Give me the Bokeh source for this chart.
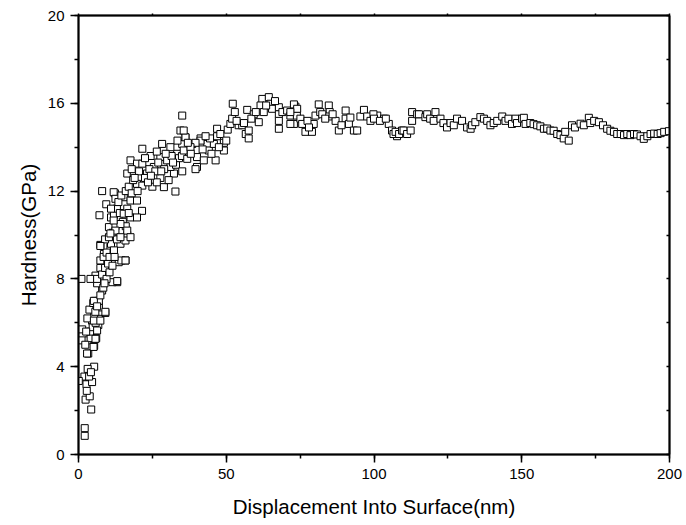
from bokeh.plotting import figure
from bokeh.models import Range1d, LinearAxis, SingleIntervalTicker, FixedTicker, ColumnDataSource
from bokeh.embed import file_html
from bokeh.resources import INLINE

# Displacement into surface (nm) and hardness (GPa)
depth_nm = [
    2.1, 2.1, 4.3, 2.4, 3.8, 2.7, 2.0, 4.6, 5.3, 3.1, 3.6, 0.1, 4.2, 2.8, 3.3, 1.25, 1.25, 3.4, 4.1, 6.0,
    5.3, 3.9, 6.7, 4.6, 7.1, 9.1, 7.1, 5.3, 3.7, 6.7, 5.0, 1.0, 2.3, 4.8, 5.8, 3.0, 2.6, 5.6,
    6.9, 9.1, 5.7, 5.2, 7.4, 6.3, 5.75, 5.1, 2.9, 6.9, 5.2, 8.0, 6.3, 5.75, 7.4, 9.7, 13.1, 11.5,
    13.6, 15.9, 8.6, 10.8, 7.4, 14.2, 16.5,
    7.4, 8.4, 7.4, 6.3, 4.06, 6.3, 13.1, 8.0, 9.0, 10.0, 8.5, 9.5, 10.5, 11.0, 12.0, 9.0, 10.3, 10.3,
    7.4, 11.5, 12.5, 13.0, 14.5, 15.9, 15.9, 13.6, 11.0, 12.0, 13.0, 14.0, 15.0, 16.0, 14.2, 12.5, 16.5,
    10.8, 17.6, 14.2, 7.1, 9.4, 8.0, 12.3, 11.9, 12.5, 15.3, 17.6, 19.8, 16.5, 21.5, 15.3, 17.6, 11.9,
    19.8, 17.0, 13.5, 14.5, 16.0, 17.0, 18.0, 9.5, 10.5, 11.5, 8.8, 12.2, 11.0,
    16.5, 18.7, 23.2, 27.7, 32.3, 19.8, 21.6, 25.0, 28.9, 32.8, 17.6, 19.8, 21.6, 25.5, 31.1, 24.4, 27.7,
    33.4, 21.6, 28.3, 31.1, 18.5, 20.5, 22.5, 24.0, 26.0, 27.0, 29.0, 30.0, 31.5, 33.0, 34.0, 22.5, 26.5,
    29.5, 20.0, 23.5, 26.5, 30.5, 18.0, 19.0, 24.5, 28.0, 32.0, 35.0, 34.5, 36.2, 35.1, 35.1, 35.6, 36.8,
    35.1, 33.5,
    41.3, 38.5, 43.6, 40.1, 40.1, 41.3, 39.6, 37.9, 36.2, 35.6, 39.6, 42.4, 44.1, 45.8, 46.4, 49.2, 49.2,
    46.9, 46.9, 38.0, 42.0, 44.5, 47.5, 48.0, 45.0, 43.0, 37.0, 50.0, 50.5, 51.4, 52.0, 52.9, 52.2,
    54.2, 55.4, 56.6, 57.6, 57.6, 57.1, 59.3, 61.0, 62.2, 64.4, 61.6, 65.0, 65.5, 62.7, 67.8, 67.8, 67.8,
    67.8, 53.5, 56.0, 58.5, 60.0, 63.5, 66.5, 69.0,
    70.6, 71.7, 73.4, 73.9, 72.9, 72.9, 74.0, 71.7, 71.7, 75.1, 75.7, 76.8, 79.0, 79.6, 80.2, 81.3, 81.8,
    84.7, 85.0, 84.7, 87.0, 88.1, 90.4, 90.4, 91.5, 77.5, 78.0, 82.5, 83.5, 86.0, 89.0,
    93.2, 94.3, 95.4, 96.6, 97.7, 98.8, 101.1, 103.4, 105.0, 106.1, 107.8, 92.0, 99.8, 100.0, 102.0,
    104.0, 106.6, 107.3, 108.5, 109.5, 110.0, 111.2,
    112.4, 112.9, 112.9, 114.6, 115.2, 117.4, 118.0, 119.0, 120.2, 120.8, 122.5, 123.5, 124.7, 125.9,
    127.0, 128.1, 129.8, 131.5, 132.7, 133.2, 134.3, 136.0, 137.2, 138.3, 139.4, 140.5, 141.7, 143.4,
    144.5, 145.5, 146.7, 147.9, 148.4, 150.1, 150.7, 151.3, 152.9, 154.0, 155.2, 156.3, 157.5, 158.6,
    159.7, 160.8, 162.0, 163.1, 164.2, 164.7, 165.9, 167.0, 168.0, 169.9, 171.0, 172.7, 173.2, 174.5,
    176.1, 177.5, 178.9, 180.0, 181.2, 182.3, 183.5, 184.6, 185.7, 186.8, 188.0, 189.0, 190.2, 191.3,
    192.5, 193.6, 194.8, 196.0, 197.0, 198.2, 199.8,
]
hardness_gpa = [
    1.2, 0.85, 2.05, 2.5, 2.65, 3.2, 3.55, 3.3, 4.0, 3.9, 3.55, 3.35, 3.75, 2.9, 4.6, 5.7, 5.2, 5.2, 5.3, 5.3,
    4.95, 5.6, 5.9, 6.1, 6.3, 6.45, 6.5, 6.4, 6.6, 6.85, 6.9, 8.0, 5.0, 5.8, 6.0, 6.2, 5.6, 7.0,
    6.7, 6.5, 6.5, 6.1, 6.1, 5.65, 5.27, 4.9, 4.6, 7.0, 7.0, 7.47, 7.8, 8.15, 8.5, 8.84, 7.85, 7.85,
    8.76, 8.84, 9.14, 9.45, 9.55, 9.6, 10.0,
    8.84, 7.6, 7.25, 6.75, 8.0, 8.0, 7.9, 8.2, 8.5, 8.7, 9.0, 9.2, 9.0, 9.6, 9.3, 9.8, 10.36, 9.9,
    9.5, 10.1, 10.4, 9.8, 8.84, 8.84, 9.75, 10.8, 10.8, 10.9, 11.2, 11.0, 10.6, 10.4, 10.5, 10.2, 10.2,
    10.07, 9.9, 9.9, 10.9, 11.4, 12.0, 11.9, 11.95, 11.65, 11.72, 11.57, 11.57, 11.2, 11.1, 10.97, 10.8, 10.66,
    10.8, 11.0, 11.5, 11.8, 12.0, 12.2, 11.9, 8.0, 8.3, 8.6, 7.8, 9.0, 11.2,
    12.8, 12.8, 12.8, 12.6, 12.8, 12.33, 12.25, 12.2, 12.18, 11.98, 13.4, 13.25, 13.25, 13.1, 13.1, 13.6, 13.55,
    13.7, 13.93, 14.15, 14.0, 12.5, 12.9, 12.6, 13.0, 12.9, 13.3, 13.0, 13.4, 13.6, 13.2, 13.5, 13.5, 13.8,
    13.7, 12.0, 12.4, 12.4, 12.5, 13.0, 12.6, 12.7, 12.9, 13.3, 13.6, 14.76, 14.45, 14.15, 15.44, 13.85, 13.47,
    12.9, 14.3,
    14.4, 14.15, 14.15, 13.55, 13.1, 14.3, 14.2, 14.0, 14.45, 14.76, 13.0, 13.4, 13.85, 14.15, 13.4, 13.85, 14.2,
    14.5, 14.84, 13.7, 13.9, 14.4, 14.0, 14.6, 13.7, 14.5, 14.2, 14.3, 14.8, 15.06, 15.3, 15.6, 15.98,
    15.0, 15.0, 14.6, 14.76, 14.4, 15.7, 15.5, 15.14, 16.2, 16.28, 15.9, 15.98, 15.75, 15.6, 15.82, 15.5, 15.2,
    14.84, 15.2, 15.1, 15.3, 15.6, 15.9, 16.1, 15.6,
    15.67, 15.44, 15.85, 15.44, 15.06, 15.95, 15.75, 15.6, 15.06, 15.3, 15.06, 14.7, 14.7, 15.06, 15.44, 15.95, 15.6,
    15.9, 15.6, 15.4, 15.2, 14.76, 15.67, 15.3, 15.06, 15.2, 14.9, 15.5, 15.3, 15.5, 15.0,
    14.76, 14.76, 15.4, 15.7, 15.4, 15.2, 15.44, 15.3, 15.06, 14.76, 14.5, 15.35, 15.5, 15.3, 15.2,
    15.3, 14.6, 14.7, 14.6, 14.76, 14.76, 14.6,
    14.76, 15.6, 15.2, 15.5, 15.5, 15.37, 15.5, 15.3, 15.2, 15.6, 15.3, 15.1, 14.9, 15.1,
    15.0, 15.3, 15.2, 14.9, 14.84, 15.0, 15.14, 15.37, 15.3, 15.2, 15.0, 15.1, 15.2, 15.4,
    15.2, 15.3, 15.06, 15.3, 15.1, 15.3, 15.34, 15.06, 15.1, 15.05, 15.0, 14.95, 14.84, 14.85,
    14.76, 14.75, 14.6, 14.55, 14.4, 14.7, 14.3, 15.0, 14.9, 15.07, 15.0, 15.34, 15.1, 15.2,
    15.14, 15.0, 14.84, 14.75, 14.7, 14.6, 14.6, 14.55, 14.6, 14.55, 14.6, 14.58, 14.5, 14.38,
    14.5, 14.6, 14.62, 14.6, 14.64, 14.7, 14.73,
]

x_ticks_interval = 50
y_ticks_interval = 4
x_tick_marks = [0, 25, 50, 75, 100, 125, 150, 175, 200]
y_tick_marks = [0, 2, 4, 6, 8, 10, 12, 14, 16, 18, 20]
x_label = "Displacement Into Surface(nm)"
y_label = "Hardness(GPa)"

FONT = "Liberation Sans"

p = figure(width=686, height=525, output_backend="svg", toolbar_location=None,
           x_range=Range1d(0, 200), y_range=Range1d(0, 20),
           min_border_left=78, min_border_right=17, min_border_top=15, min_border_bottom=71,
           x_axis_label=x_label, y_axis_label=y_label)
p.grid.visible = False
p.outline_line_color = "black"
p.outline_line_width = 1.5
p.background_fill_color = "white"
p.border_fill_color = "white"

p.xaxis.ticker = SingleIntervalTicker(interval=x_ticks_interval, num_minor_ticks=2)
p.yaxis.ticker = SingleIntervalTicker(interval=y_ticks_interval, num_minor_ticks=2)

for ax in (p.xaxis[0], p.yaxis[0]):
    ax.axis_line_width = 2
    ax.major_tick_line_width = 1.5
    ax.minor_tick_line_width = 1.5
    ax.major_tick_out = 8
    ax.major_tick_in = 0
    ax.minor_tick_out = 4
    ax.minor_tick_in = 0
    ax.major_label_text_font = FONT
    ax.major_label_text_font_size = "15px"
    ax.major_label_text_color = "black"
    ax.axis_label_text_font = FONT
    ax.axis_label_text_font_size = "20.5px"
    ax.axis_label_text_font_style = "normal"
    ax.axis_label_text_color = "black"
    ax.major_label_standoff = 6

p.xaxis[0].axis_label_standoff = 13
p.yaxis[0].axis_label_standoff = 5

# top and right frame axes: tick marks only, no labels
top = LinearAxis(ticker=FixedTicker(ticks=[], minor_ticks=x_tick_marks),
                 axis_line_width=2, minor_tick_line_width=1.5,
                 minor_tick_out=2, minor_tick_in=0)
right = LinearAxis(ticker=FixedTicker(ticks=[], minor_ticks=y_tick_marks),
                   axis_line_width=2, minor_tick_line_width=1.5,
                   minor_tick_out=0, minor_tick_in=3)
p.add_layout(top, "above")
p.add_layout(right, "right")

src = ColumnDataSource(dict(x=depth_nm, y=hardness_gpa))
p.scatter("x", "y", source=src, marker="square", size=7, fill_color="white",
          line_color="black", line_width=1)

open("out.html", "w").write(file_html(p, INLINE))
